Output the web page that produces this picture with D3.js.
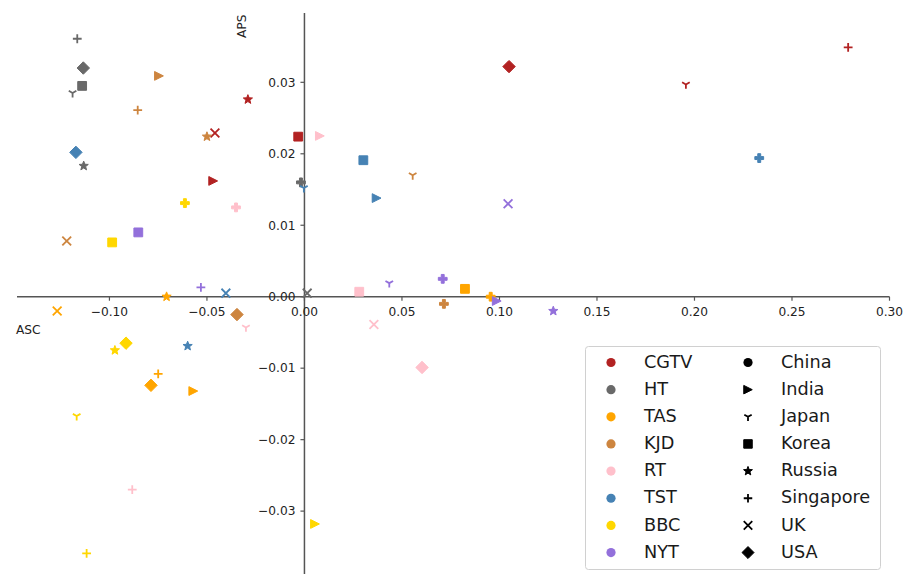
<!DOCTYPE html>
<html>
<head>
<meta charset="utf-8">
<script src="https://cdn.jsdelivr.net/npm/d3@7"></script>
<style>
  html, body { margin: 0; padding: 0; background: #fff; }
  svg { display: block; font-family: "DejaVu Sans", sans-serif; }
</style>
</head>
<body>
<svg id="chart" width="907" height="574"></svg>
<script>
// outlets (colour legend) and source countries (marker legend)
const outlets  = ["CGTV", "HT", "TAS", "KJD", "RT", "TST", "BBC", "NYT"];
const colors   = ["#b22222", "#696969", "#ffa500", "#cd853f", "#ffc0cb", "#4682b4", "#ffd700", "#9370db"];
const countries = ["China", "India", "Japan", "Korea", "Russia", "Singapore", "UK", "USA"];

const xTicks = [-0.10, -0.05, 0.00, 0.05, 0.10, 0.15, 0.20, 0.25, 0.30];
const yTicks = [-0.03, -0.02, -0.01, 0.00, 0.01, 0.02, 0.03];

// [country, ASC, APS] per outlet
const cgtv = [["India", -0.0468, 0.0162], ["Japan", 0.1956, 0.0297], ["Korea", -0.0032, 0.0224],
              ["Russia", -0.0290, 0.0276], ["Singapore", 0.2788, 0.0349], ["UK", -0.0459, 0.0229], ["USA", 0.1049, 0.0322]];
const ht   = [["China", -0.0018, 0.0160], ["Japan", -0.1189, 0.0285], ["Korea", -0.1140, 0.0295],
              ["Russia", -0.1132, 0.0183], ["Singapore", -0.1165, 0.0361], ["UK", 0.0014, 0.0005], ["USA", -0.1134, 0.0320]];
const tas  = [["China", 0.0955, 0.0000], ["India", -0.0570, -0.0132], ["Korea", 0.0823, 0.0011],
              ["Russia", -0.0707, 0.0000], ["Singapore", -0.0750, -0.0108], ["UK", -0.1268, -0.0020], ["USA", -0.0787, -0.0124]];
const kjd  = [["China", 0.0715, -0.0010], ["India", -0.0746, 0.0309], ["Japan", 0.0555, 0.0170],
              ["Russia", -0.0500, 0.0224], ["Singapore", -0.0855, 0.0261], ["UK", -0.1219, 0.0078], ["USA", -0.0346, -0.0025]];
const rt   = [["China", -0.0351, 0.0125], ["India", 0.0079, 0.0225], ["Japan", -0.0300, -0.0043],
              ["Korea", 0.0281, 0.0007], ["Singapore", -0.0883, -0.0270], ["UK", 0.0356, -0.0039], ["USA", 0.0603, -0.0099]];
const tst  = [["China", 0.2332, 0.0194], ["India", 0.0370, 0.0138], ["Japan", -0.0003, 0.0152],
              ["Korea", 0.0302, 0.0191], ["Russia", -0.0599, -0.0069], ["UK", -0.0403, 0.0005], ["USA", -0.1172, 0.0202]];
const bbc  = [["China", -0.0613, 0.0131], ["India", 0.0054, -0.0318], ["Japan", -0.1168, -0.0167],
              ["Korea", -0.0986, 0.0076], ["Russia", -0.0972, -0.0075], ["Singapore", -0.1117, -0.0359], ["USA", -0.0915, -0.0065]];
const nyt  = [["China", 0.0709, 0.0025], ["India", 0.0986, -0.0006], ["Japan", 0.0435, 0.0019],
              ["Korea", -0.0852, 0.0090], ["Russia", 0.1276, -0.0020], ["Singapore", -0.0531, 0.0013], ["UK", 0.1044, 0.0130]];
const series = [cgtv, ht, tas, kjd, rt, tst, bbc, nyt];

const svg = d3.select("#chart");

const x = d3.scaleLinear().domain([-0.1474, 0.30]).range([17, 889.5]);
const y = d3.scaleLinear().domain([-0.0388, 0.0397]).range([574, 13]);

// matplotlib-like marker shapes, s = marker size in px
function markerPath(country, s) {
  const h = s / 2;
  switch (country) {
    case "China": { // filled plus 'P'
      const a = s / 6;
      return `M${-a},${-h}H${a}V${-a}H${h}V${a}H${a}V${h}H${-a}V${a}H${-h}V${-a}H${-a}Z`;
    }
    case "India":
      return `M${h},0L${-h},${-h}L${-h},${h}Z`;
    case "Japan": // tri_down
      return `M0,0L0,${h}M0,0L${-0.866 * h},${-0.5 * h}M0,0L${0.866 * h},${-0.5 * h}`;
    case "Korea":
      return `M${-h},${-h}H${h}V${h}H${-h}Z`;
    case "Russia": {
      let p = "";
      for (let i = 0; i < 10; i++) {
        const r = i % 2 === 0 ? h * 1.1 : h * 0.47;
        const ang = -Math.PI / 2 + i * Math.PI / 5;
        p += (i === 0 ? "M" : "L") + (r * Math.cos(ang)).toFixed(2) + "," + (r * Math.sin(ang)).toFixed(2);
      }
      return p + "Z";
    }
    case "Singapore":
      return `M${-h},0H${h}M0,${-h}V${h}`;
    case "UK":
      return `M${-h},${-h}L${h},${h}M${-h},${h}L${h},${-h}`;
    case "USA": {
      const d = h * 1.414;
      return `M0,${-d}L${d},0L0,${d}L${-d},0Z`;
    }
  }
}
const stroked = c => c === "Japan" || c === "Singapore" || c === "UK";

// axes through the origin
const axisColor = "#555";
const g = svg.append("g").attr("font-size", 12.2).attr("fill", "#222");

g.append("line").attr("x1", x.range()[0]).attr("x2", x.range()[1])
  .attr("y1", y(0)).attr("y2", y(0)).attr("stroke", axisColor).attr("stroke-width", 1.5);
g.append("line").attr("x1", x(0)).attr("x2", x(0))
  .attr("y1", y.range()[1]).attr("y2", y.range()[0]).attr("stroke", axisColor).attr("stroke-width", 1.5);

xTicks.forEach(t => {
  g.append("line").attr("x1", x(t)).attr("x2", x(t)).attr("y1", y(0)).attr("y2", y(0) + 4)
    .attr("stroke", axisColor).attr("stroke-width", 1.2);
  g.append("text").attr("x", x(t)).attr("y", y(0) + 19).attr("text-anchor", "middle")
    .text(d3.format(".2f")(t).replace("-", "\u2212"));
});
yTicks.forEach(t => {
  g.append("line").attr("x1", x(0) - 4).attr("x2", x(0)).attr("y1", y(t)).attr("y2", y(t))
    .attr("stroke", axisColor).attr("stroke-width", 1.2);
  g.append("text").attr("x", x(0) - 9).attr("y", y(t)).attr("dy", "0.35em").attr("text-anchor", "end")
    .text(d3.format(".2f")(t).replace("-", "\u2212"));
});

g.append("text").attr("x", 16).attr("y", 334).text("ASC");
g.append("text").attr("transform", "translate(246,38) rotate(-90)").text("APS");

// points
series.forEach((pts, i) => {
  const col = colors[i];
  svg.append("g").selectAll("path").data(pts).join("path")
    .attr("transform", d => `translate(${x(d[1])},${y(d[2])})`)
    .attr("d", d => markerPath(d[0], 8.8))
    .attr("fill", d => stroked(d[0]) ? "none" : col)
    .attr("stroke", col)
    .attr("stroke-width", d => stroked(d[0]) ? 1.8 : 1);
});

// legend
const lg = svg.append("g");
lg.append("rect").attr("x", 585.5).attr("y", 346.5).attr("width", 295).attr("height", 223)
  .attr("rx", 3).attr("fill", "#fff").attr("stroke", "#d0d0d0").attr("stroke-width", 1);
const rowY = i => 361.5 + i * 27.15;
outlets.forEach((o, i) => {
  lg.append("circle").attr("cx", 611).attr("cy", rowY(i) + 1).attr("r", 4.6).attr("fill", colors[i]);
  lg.append("text").attr("x", 644).attr("y", rowY(i)).attr("dy", "0.35em")
    .attr("font-size", 17.7).attr("fill", "#1a1a1a").text(o);
});
countries.forEach((c, i) => {
  const p = lg.append("g").attr("transform", `translate(748,${rowY(i) + 1})`);
  if (c === "China") {
    p.append("circle").attr("r", 4.6).attr("fill", "#000");
  } else {
    p.append("path").attr("d", markerPath(c, 8.5))
      .attr("fill", stroked(c) ? "none" : "#000").attr("stroke", "#000")
      .attr("stroke-width", stroked(c) ? 1.8 : 1);
  }
  lg.append("text").attr("x", 781).attr("y", rowY(i)).attr("dy", "0.35em")
    .attr("font-size", 17.7).attr("fill", "#1a1a1a").text(c);
});
</script>
</body>
</html>
